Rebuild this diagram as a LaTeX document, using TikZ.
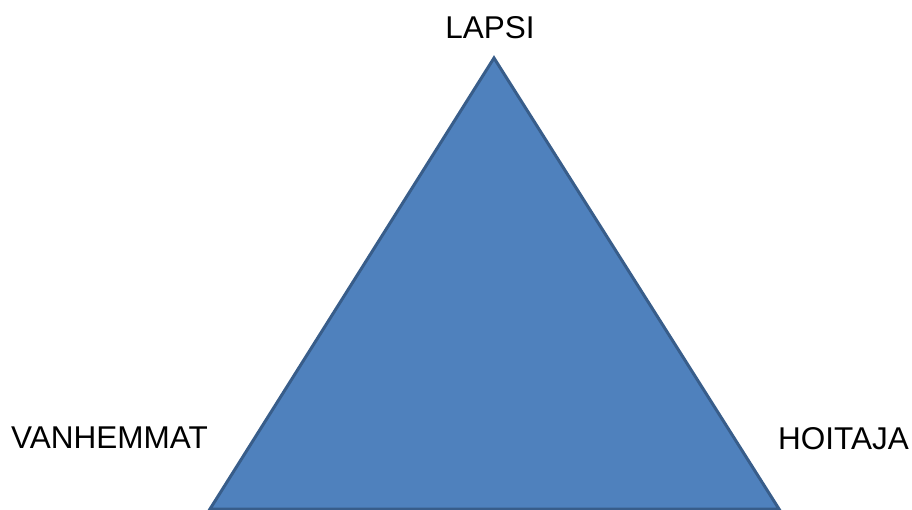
\documentclass[tikz,border=0pt]{standalone}
\usepackage{fontspec}
\setmainfont{Liberation Sans}
\definecolor{trifill}{HTML}{4F81BD}
\definecolor{triedge}{HTML}{385D8A}
\tikzset{
  oznaka/.style={inner sep=0pt, font=\fontsize{31.5}{36}\selectfont}
}
\begin{document}
\begin{tikzpicture}[x=1pt, y=1pt]
  \useasboundingbox (0, 0) rectangle (912, 509);
  % koordinate
  \coordinate (L) at (494, 451);
  \coordinate (V) at (210, 0);
  \coordinate (H) at (779, 0);
  % trikotnik
  \draw [fill=trifill, draw=triedge, line width=3pt, line join=miter] (L) -- (V) -- (H) -- cycle;
  % oznake
  \node [oznaka, anchor=base] (lapsi) at (490, 470) {LAPSI};
  \node [oznaka, anchor=base west] (vanhemmat) at (11, 61) {VANHEMMAT};
  \node [oznaka, anchor=base west] (hoitaja) at (778, 60) {HOITAJA};
\end{tikzpicture}
\end{document}
